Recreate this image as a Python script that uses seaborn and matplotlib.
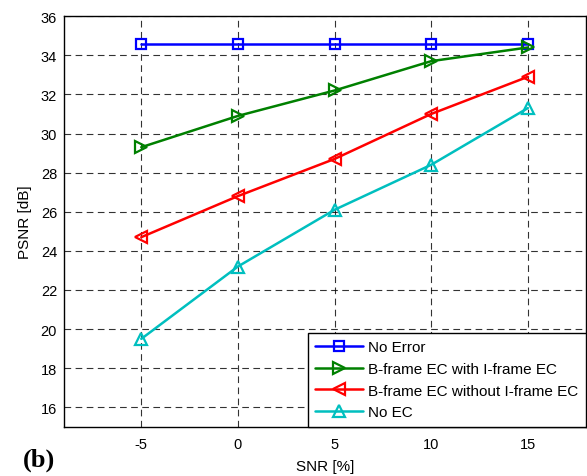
import pandas as pd
import matplotlib.pyplot as plt
import seaborn as sns

# values
snr = [-5, 0, 5, 10, 15]
no_error = [34.6, 34.6, 34.6, 34.6, 34.6]
b_with_i = [29.3, 30.9, 32.2, 33.7, 34.4]
b_without_i = [24.7, 26.8, 28.7, 31.0, 32.9]
no_ec = [19.5, 23.2, 26.1, 28.4, 31.3]

labels = ['No Error', 'B-frame EC with I-frame EC',
          'B-frame EC without I-frame EC', 'No EC']
series = [no_error, b_with_i, b_without_i, no_ec]
colors = ['#0000ff', '#008000', '#ff0000', '#00bfbf']
markers = ['s', '>', '<', '^']
msizes = [7, 9, 9, 9]

sns.set_style('white')
plt.rcParams['font.family'] = ['Liberation Sans', 'DejaVu Sans']
plt.rcParams['axes.unicode_minus'] = False
plt.rcParams['text.color'] = 'black'
plt.rcParams['axes.labelcolor'] = 'black'
plt.rcParams['xtick.color'] = 'black'
plt.rcParams['ytick.color'] = 'black'

fig = plt.figure(figsize=(5.87, 4.77), dpi=100)
ax = fig.add_axes([0.109, 0.103, 0.889, 0.861])

for lab, vals, c, m, ms in zip(labels, series, colors, markers, msizes):
    df = pd.DataFrame({'SNR': snr, 'PSNR': vals})
    sns.lineplot(data=df, x='SNR', y='PSNR', ax=ax, color=c, marker=m,
                 markersize=ms, markerfacecolor='none', markeredgecolor=c,
                 markeredgewidth=1.6, linewidth=1.8, label=lab)

ax.set_xlim(-9, 18)
ax.set_ylim(15, 36)
ax.set_xticks(snr)
ax.set_yticks(range(16, 37, 2))
ax.grid(True, color='black', linestyle=(0, (6, 4)), linewidth=0.8, alpha=0.8)
ax.tick_params(axis='y', labelsize=10.5, direction='in', length=0, pad=5)
ax.tick_params(axis='x', labelsize=10.5, direction='in', length=0, pad=7)
for s in ax.spines.values():
    s.set_color('black')
    s.set_linewidth(1.0)

ax.set_xlabel('SNR [%]', fontsize=11, labelpad=6)
ax.set_ylabel('PSNR [dB]', fontsize=11, labelpad=6)

leg = ax.legend(loc='lower right', borderaxespad=0, fontsize=11,
                frameon=True, fancybox=False, handlelength=3.1,
                handletextpad=0.35, labelspacing=0.5, borderpad=0.5)
leg.get_frame().set_edgecolor('black')
leg.get_frame().set_linewidth(1.0)
leg.get_frame().set_alpha(1)

fig.text(0.039, 0.021, '(b)', fontsize=19, fontweight='bold',
         family='Liberation Serif', va='baseline')

fig.savefig('out.png', dpi=100)
